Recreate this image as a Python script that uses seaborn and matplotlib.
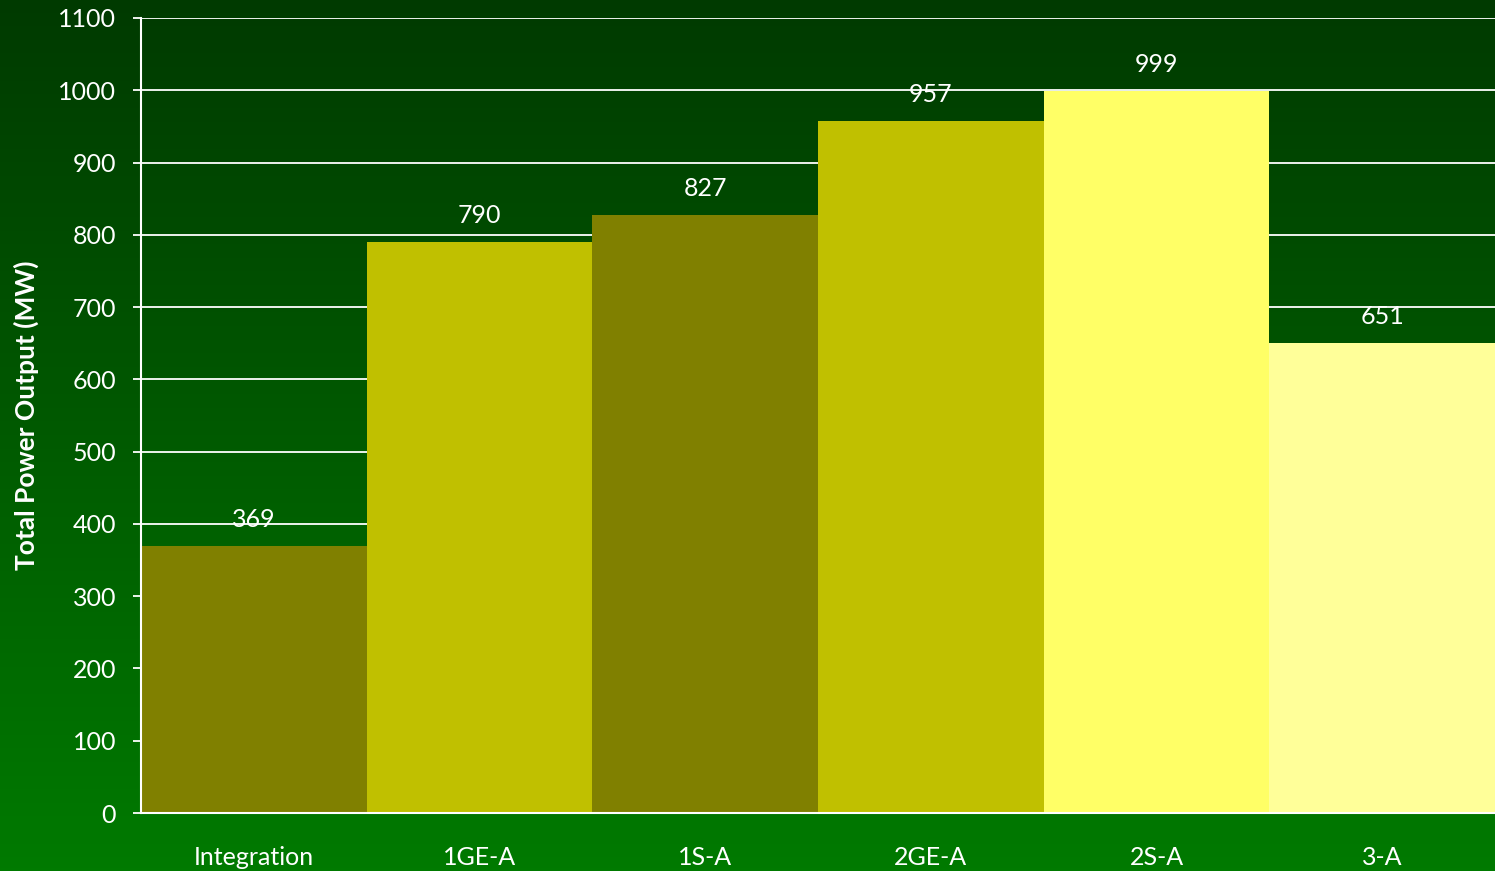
import numpy as np
import pandas as pd
import matplotlib
matplotlib.use("Agg")
import matplotlib.pyplot as plt
import seaborn as sns
from matplotlib.colors import LinearSegmentedColormap

categories = ["Integration", "1GE-A", "1S-A", "2GE-A", "2S-A", "3-A"]
values = [369, 790, 827, 957, 999, 651]
bar_colors = ["#808000", "#C0C000", "#808000", "#C0C000", "#FFFF66", "#FFFF99"]
y_ticks = [0, 100, 200, 300, 400, 500, 600, 700, 800, 900, 1000, 1100]
y_label = "Total Power Output (MW)"

sns.set_theme(style="white")
plt.rcParams["font.family"] = ["Lato", "DejaVu Sans"]

df = pd.DataFrame({"category": categories, "value": values})

fig = plt.figure(figsize=(14.95, 8.71), dpi=100)

# gradient background
bg = fig.add_axes([0, 0, 1, 1], zorder=-10)
cmap = LinearSegmentedColormap.from_list("g", ["#003A00", "#007A00"])
grad = np.linspace(0, 1, 256).reshape(-1, 1)
bg.imshow(grad, aspect="auto", cmap=cmap, extent=[0, 1, 0, 1])
bg.set_axis_off()

ax = fig.add_axes([141 / 1495, 58 / 871, 1 - 141 / 1495, (813 - 18) / 871])
ax.patch.set_alpha(0)

sns.barplot(data=df, x="category", y="value", hue="category",
            palette=bar_colors, width=1.0, legend=False, ax=ax,
            saturation=1, linewidth=0, zorder=3)

ax.set_xlim(-0.5, len(categories) - 0.5)
ax.set_ylim(0, 1100)
ax.set_yticks(y_ticks)
ax.yaxis.grid(True, color="white", linewidth=1.3, zorder=1)
ax.set_axisbelow(True)

for s in ["top", "right"]:
    ax.spines[s].set_visible(False)
for s in ["left", "bottom"]:
    ax.spines[s].set_visible(True)
    ax.spines[s].set_color("white")
    ax.spines[s].set_linewidth(1.5)
    ax.spines[s].set_zorder(5)

ax.tick_params(axis="y", which="both", left=True, length=6, width=1.3,
               color="white", labelcolor="white", labelsize=18, pad=12)
ax.tick_params(axis="x", which="both", bottom=False, length=0,
               labelcolor="white", labelsize=18, pad=24)

ax.set_xlabel("")
ax.set_ylabel(y_label, color="white", fontsize=19, fontweight="bold", labelpad=14)

for i, v in enumerate(values):
    ax.annotate(str(v), xy=(i, v), xytext=(0, 19), textcoords="offset points",
                ha="center", va="center", color="white", fontsize=18, zorder=6)

fig.savefig("out.png", dpi=100)
